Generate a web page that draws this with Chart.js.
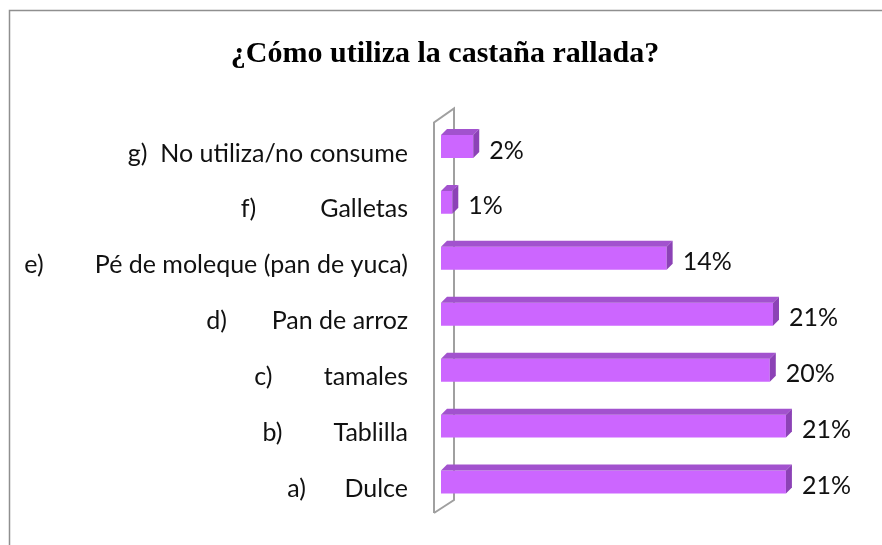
<!DOCTYPE html>
<html>
<head>
<meta charset="utf-8">
<script src="https://cdn.jsdelivr.net/npm/chart.js@4.4.1/dist/chart.umd.min.js"></script>
<style>
  html, body { margin: 0; padding: 0; background: #fff; }
</style>
</head>
<body>
<canvas id="c" width="882" height="545"></canvas>
<script>
// ¿Cómo utiliza la castaña rallada? —— barras horizontales con efecto 3D

const TITLE = '¿Cómo utiliza la castaña rallada?';
const categories = [
  'a)      Dulce',
  'b)        Tablilla',
  'c)        tamales',
  'd)       Pan de arroz',
  'e)        Pé de moleque (pan de yuca)',
  'f)          Galletas',
  'g)  No utiliza/no consume'
];
const percents = [21.4, 21.4, 20.4, 20.6, 14.0, 0.7, 2.0];

const FRONT = '#CC66FF';
const TOP = '#A252CE';
const SIDE = '#8C42B6';
const LABEL_FONT = '25px Lato';
const DX = 6, DY = 6;

const framePlugin = {
  id: 'frame',
  beforeDraw(chart) {
    const ctx = chart.ctx;
    ctx.save();
    ctx.fillStyle = '#fff';
    ctx.fillRect(0, 0, chart.width, chart.height);
    ctx.strokeStyle = '#8f8f8f';
    ctx.lineWidth = 1.5;
    ctx.strokeRect(9.5, 10.5, chart.width + 20, chart.height + 20);
    ctx.restore();
  }
};

const wallPlugin = {
  id: 'wall3d',
  beforeDatasetsDraw(chart) {
    const { ctx, chartArea: a } = chart;
    const fx = a.left - 7, bx = a.left + 13;
    ctx.save();
    ctx.strokeStyle = '#a0a0a0';
    ctx.lineWidth = 2;
    ctx.beginPath();
    ctx.moveTo(fx, a.bottom + 3);
    ctx.lineTo(fx, a.top + 4);
    ctx.lineTo(bx, a.top - 10);
    ctx.lineTo(bx, a.bottom - 10);
    ctx.lineTo(fx, a.bottom + 3);
    ctx.stroke();
    ctx.restore();
  }
};

const barsPlugin = {
  id: 'bars3d',
  afterDatasetsDraw(chart) {
    const ctx = chart.ctx;
    const meta = chart.getDatasetMeta(0);
    ctx.save();
    meta.data.forEach((bar, i) => {
      const { x, y, base, height } = bar.getProps(['x', 'y', 'base', 'height'], true);
      const t = y - height / 2, b = y + height / 2;
      ctx.fillStyle = TOP;
      ctx.beginPath();
      ctx.moveTo(base, t);
      ctx.lineTo(x, t);
      ctx.lineTo(x + DX, t - DY);
      ctx.lineTo(base + DX, t - DY);
      ctx.closePath();
      ctx.fill();
      ctx.fillStyle = SIDE;
      ctx.beginPath();
      ctx.moveTo(x, t);
      ctx.lineTo(x + DX, t - DY);
      ctx.lineTo(x + DX, b - DY);
      ctx.lineTo(x, b);
      ctx.closePath();
      ctx.fill();
      ctx.fillStyle = '#111';
      ctx.font = LABEL_FONT;
      ctx.textBaseline = 'middle';
      ctx.textAlign = 'left';
      ctx.fillText(Math.round(percents[i]) + '%', x + 16, y + 4);
    });
    ctx.restore();
  }
};

new Chart(document.getElementById('c').getContext('2d'), {
  type: 'bar',
  data: {
    labels: categories,
    datasets: [{
      data: percents,
      backgroundColor: FRONT,
      borderWidth: 0,
      barPercentage: 0.41,
      categoryPercentage: 1
    }]
  },
  options: {
    indexAxis: 'y',
    responsive: false,
    devicePixelRatio: 1,
    animation: false,
    layout: { padding: { top: 0, left: 9, right: 1, bottom: 35 } },
    plugins: {
      legend: { display: false },
      tooltip: { enabled: false },
      title: {
        display: true,
        text: TITLE,
        color: '#000',
        font: { family: 'Liberation Serif', size: 30, weight: 'bold', lineHeight: 1.2 },
        padding: { top: 36, bottom: 46.5 }
      }
    },
    scales: {
      x: { display: false, min: 0, max: 27.3 },
      y: {
        reverse: true,
        grid: { display: false, drawTicks: false },
        border: { display: false },
        ticks: { color: '#111', font: { family: 'Lato', size: 25 }, padding: 33, labelOffset: 7 },
        afterFit(scale) {
          scale.width = 432;
          // the big tick padding must not push the plot area in
          scale.paddingTop = 0;
          scale.paddingBottom = 0;
        }
      }
    }
  },
  plugins: [framePlugin, wallPlugin, barsPlugin]
});
</script>
</body>
</html>
